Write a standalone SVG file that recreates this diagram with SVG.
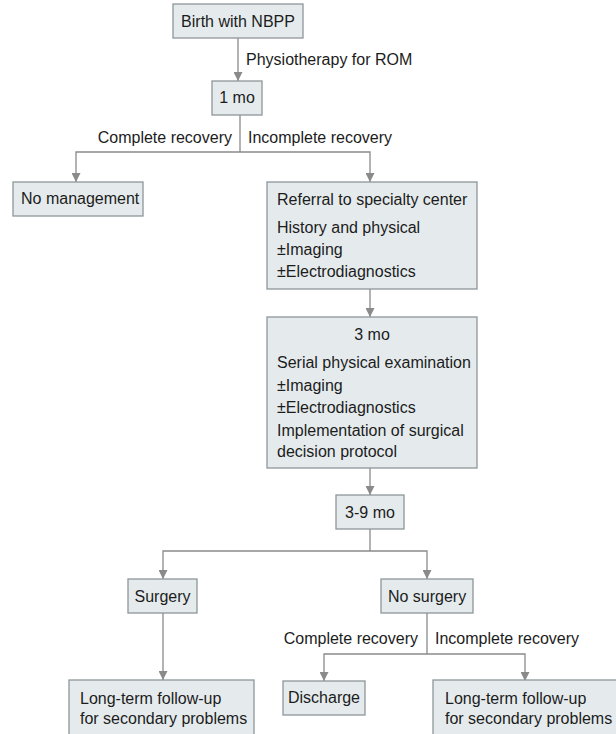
<svg xmlns="http://www.w3.org/2000/svg" width="616" height="734" viewBox="0 0 616 734">
<style>
.box{fill:#e5ebed;stroke:#8e9699;stroke-width:1.3}
.t{font-family:"Liberation Sans",Arial,sans-serif;font-size:16px;fill:#1c1c1c}
.c{text-anchor:middle}
.e{text-anchor:end}
.ln{fill:none;stroke:#8a8a8a;stroke-width:1.3}
</style>
<defs>
<marker id="ah" viewBox="0 0 10 10" refX="10" refY="5" markerWidth="9" markerHeight="9" markerUnits="userSpaceOnUse" orient="auto">
<path d="M0,0 L10,5 L0,10 Z" fill="#8a8a8a"/>
</marker>
</defs>
<rect width="616" height="734" fill="#ffffff"/>
<g id="connectors">
<line class="ln" x1="238" y1="38" x2="238" y2="81" marker-end="url(#ah)"/>
<polyline class="ln" points="240,115 240,152"/>
<polyline class="ln" points="240,152 76,152 76,182" marker-end="url(#ah)"/>
<polyline class="ln" points="240,152 370,152 370,182" marker-end="url(#ah)"/>
<line class="ln" x1="370" y1="289" x2="370" y2="317" marker-end="url(#ah)"/>
<line class="ln" x1="370" y1="468" x2="370" y2="495" marker-end="url(#ah)"/>
<polyline class="ln" points="370,529 370,551"/>
<polyline class="ln" points="370,551 163,551 163,579" marker-end="url(#ah)"/>
<polyline class="ln" points="370,551 427,551 427,579" marker-end="url(#ah)"/>
<line class="ln" x1="163" y1="613" x2="163" y2="680" marker-end="url(#ah)"/>
<polyline class="ln" points="427,613 427,654"/>
<polyline class="ln" points="427,654 324,654 324,681" marker-end="url(#ah)"/>
<polyline class="ln" points="427,654 525,654 525,681" marker-end="url(#ah)"/>
<text class="t" x="246" y="65">Physiotherapy for ROM</text>
<text class="t e" x="232" y="143">Complete recovery</text>
<text class="t" x="248" y="143">Incomplete recovery</text>
<text class="t e" x="418" y="644">Complete recovery</text>
<text class="t" x="435" y="644">Incomplete recovery</text>
</g>
<g id="birth">
<rect class="box" x="173" y="4" width="130" height="34"/>
<text class="t c" x="238" y="27">Birth with NBPP</text>
</g>
<g id="onemo">
<rect class="box" x="212" y="81" width="50" height="34"/>
<text class="t c" x="237" y="103">1 mo</text>
</g>
<g id="nomanagement">
<rect class="box" x="13" y="182" width="130" height="34"/>
<text class="t" x="21" y="204">No management</text>
</g>
<g id="referral">
<rect class="box" x="267" y="182" width="210" height="107"/>
<text class="t" x="277" y="205">Referral to specialty center</text>
<text class="t" x="277" y="233">History and physical</text>
<text class="t" x="277" y="255">±Imaging</text>
<text class="t" x="277" y="277">±Electrodiagnostics</text>
</g>
<g id="threemo">
<rect class="box" x="267" y="317" width="210" height="151"/>
<text class="t c" x="372" y="340">3 mo</text>
<text class="t" x="277" y="368">Serial physical examination</text>
<text class="t" x="277" y="391">±Imaging</text>
<text class="t" x="277" y="413">±Electrodiagnostics</text>
<text class="t" x="277" y="436">Implementation of surgical</text>
<text class="t" x="277" y="457">decision protocol</text>
</g>
<g id="threeninemo">
<rect class="box" x="336" y="495" width="68" height="34"/>
<text class="t c" x="370" y="518">3-9 mo</text>
</g>
<g id="surgery">
<rect class="box" x="128" y="579" width="69" height="34"/>
<text class="t c" x="162.5" y="602">Surgery</text>
</g>
<g id="nosurgery">
<rect class="box" x="381" y="579" width="92" height="34"/>
<text class="t c" x="427" y="602">No surgery</text>
</g>
<g id="followup1">
<rect class="box" x="69" y="680" width="185" height="60"/>
<text class="t" x="80" y="704">Long-term follow-up</text>
<text class="t" x="80" y="724">for secondary problems</text>
</g>
<g id="discharge">
<rect class="box" x="283" y="681" width="82" height="34"/>
<text class="t c" x="324" y="703">Discharge</text>
</g>
<g id="followup2">
<rect class="box" x="433" y="680" width="190" height="60"/>
<text class="t" x="445" y="704">Long-term follow-up</text>
<text class="t" x="445" y="724">for secondary problems</text>
</g>
</svg>
